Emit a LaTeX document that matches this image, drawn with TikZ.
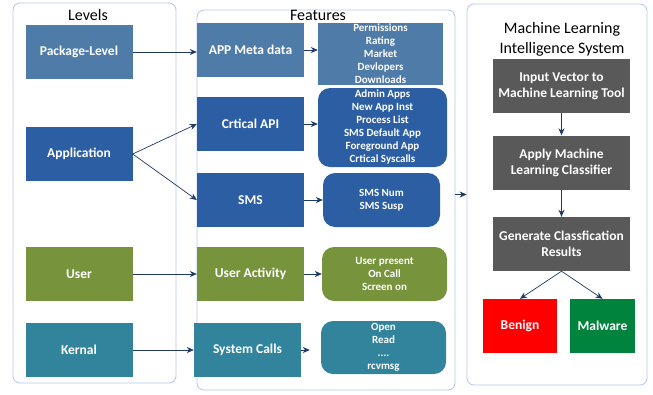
\documentclass[tikz,border=0pt]{standalone}
\usepackage{fontspec}
\setmainfont{Carlito}
\usetikzlibrary{arrows.meta}
\definecolor{frameblue}{HTML}{B4C7E7}
\definecolor{linkblue}{HTML}{1F3864}
\definecolor{metablue}{HTML}{4E7BA7}
\definecolor{appblue}{HTML}{2B5EA3}
\definecolor{userolive}{HTML}{77933C}
\definecolor{kernteal}{HTML}{31849B}
\definecolor{mlgray}{HTML}{595959}
\definecolor{malgreen}{HTML}{00843D}
\tikzset{
  box/.style={rectangle, minimum width=107pt, minimum height=54pt, inner sep=1pt,
    text=white, align=center, font=\fontsize{13.5}{16}\selectfont\bfseries},
  list/.style={rectangle, inner sep=0pt, text=white, align=center,
    font=\fontsize{11}{13}\selectfont\bfseries},
  frame/.style={draw=frameblue, line width=0.8pt, rounded corners=7pt},
  title/.style={inner sep=0pt, align=center, font=\fontsize{16}{20}\selectfont},
  link/.style={draw=linkblue, line width=0.7pt, -{Stealth[length=7pt,width=6pt]}}
}
\begin{document}
\begin{tikzpicture}[x=1pt,y=-1pt]
\useasboundingbox (0,0) rectangle (653,394);
\node[frame, minimum width=163pt, minimum height=380pt] (levelsframe) at (94.5,193) {};
\node[frame, minimum width=258pt, minimum height=380pt] (featframe) at (326,200) {};
\node[frame, minimum width=180pt, minimum height=381pt] (mlframe) at (557,194.5) {};
\node[title, anchor=base] (levelstitle) at (88,20) {Levels};
\node[title, anchor=base] (feattitle) at (318,20) {Features};
\node[title] (mltitle) at (562,39) {Machine Learning\\Intelligence System};

\node[box, fill=metablue] (pkg) at (79,52) {Package-Level};
\node[box, fill=appblue] (app) at (79,154) {Application};
\node[box, fill=userolive] (user) at (79,274) {User};
\node[box, fill=kernteal] (kern) at (79,350) {Kernal};

\node[box, fill=metablue] (meta) at (250.5,50) {APP Meta data};
\node[box, fill=appblue] (api) at (250.5,124) {Crtical API};
\node[box, fill=appblue] (sms) at (250.5,200) {SMS};
\node[box, fill=userolive] (activity) at (250.5,274) {User Activity};
\node[box, fill=kernteal] (syscalls) at (247.5,350) {System Calls};

\node[list, fill=metablue, minimum width=125pt, minimum height=62pt] (metalist) at (380.5,54)
  {Permissions\\Rating\\Market\\Devlopers\\Downloads};
\node[list, fill=appblue, rounded corners=12pt, minimum width=129pt, minimum height=79pt] (apilist) at (382.5,127.5)
  {Admin Apps\\New App Inst\\Process List\\SMS Default App\\Foreground App\\Crtical Syscalls};
\node[list, fill=appblue, rounded corners=12pt, minimum width=117pt, minimum height=54pt] (smslist) at (381.5,200)
  {SMS Num\\SMS Susp};
\node[list, fill=userolive, rounded corners=12pt, minimum width=125pt, minimum height=54pt] (activitylist) at (384.5,274)
  {User present\\On Call\\Screen on};
\node[list, fill=kernteal, rounded corners=12pt, minimum width=125pt, minimum height=53pt] (syslist) at (383.5,347.5)
  {Open\\Read\\....\\rcvmsg};

\node[box, fill=mlgray, minimum width=137pt] (input) at (561.5,86) {Input Vector to\\Machine Learning Tool};
\node[box, fill=mlgray, minimum width=137pt] (apply) at (561.5,162.5) {Apply Machine\\Learning Classifier};
\node[box, fill=mlgray, minimum width=137pt] (generate) at (561.5,244) {Generate Classfication\\Results};
\node[box, fill=red, minimum width=74pt] (benign) at (520,326) {Benign};
\node[box, fill=malgreen, minimum width=65pt] (malware) at (602.5,326) {Malware};

\draw[link] (pkg.east) -- (pkg.east -| meta.west);
\draw[link] (app.east) -- (api.west);
\draw[link] (app.east) -- (sms.west);
\draw[link] (user.east) -- (activity.west);
\draw[link] (kern.east) -- (syscalls.west);
\draw[link] (meta.east) -- (meta.east -| metalist.west);
\draw[link] (api.east) -- (api.east -| apilist.west);
\draw[link] (sms.east) -- (smslist.west);
\draw[link] (activity.east) -- (activitylist.west);
\draw[link, shorten >=11pt] (syscalls.east) -- (syscalls.east -| syslist.west);
\draw[link] (featframe.east |- mlframe.west) -- (mlframe.west);
\draw[link] (input) -- (apply);
\draw[link] (apply) -- (generate);
\draw[link] (generate.south) -- (benign.north);
\draw[link] (generate.south) -- (malware.north);
\end{tikzpicture}
\end{document}
